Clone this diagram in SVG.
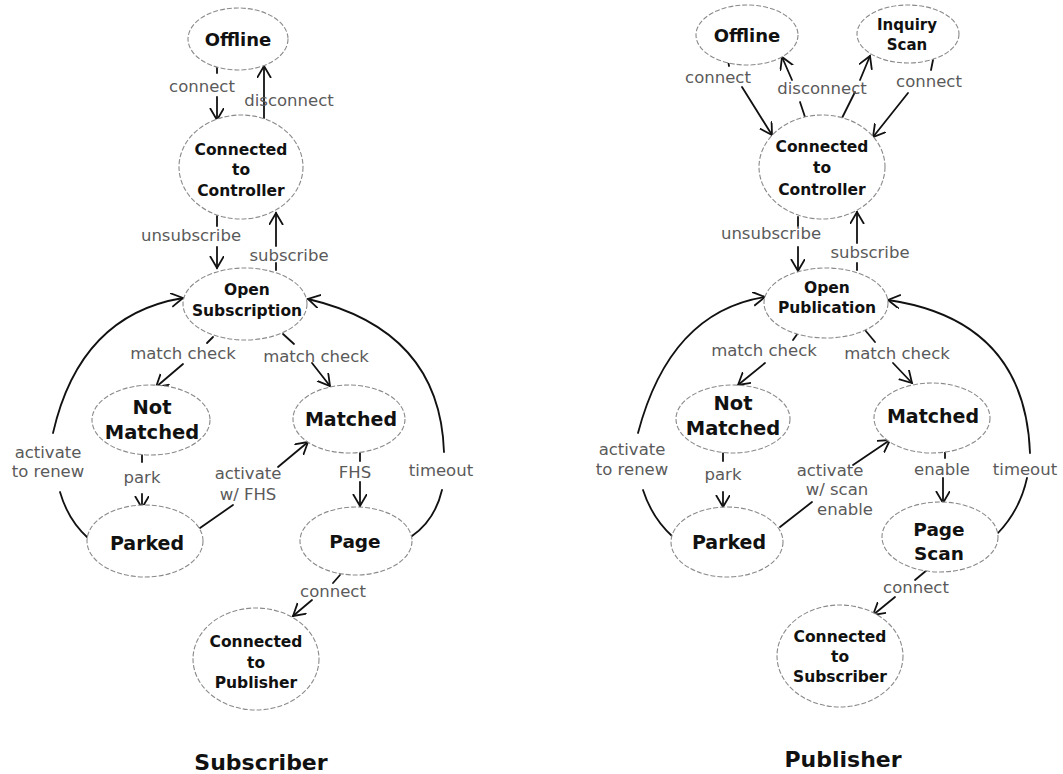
<svg xmlns="http://www.w3.org/2000/svg" width="1063" height="774" viewBox="0 0 1063 774">
<style>
.node ellipse{fill:#fff;stroke:#8a8a8a;stroke-width:1.1;stroke-dasharray:5 2}
.nt{font-family:"DejaVu Sans",Verdana,sans-serif;font-weight:bold;fill:#111;text-anchor:middle;dominant-baseline:central}
.el{font-family:"DejaVu Sans",Verdana,sans-serif;font-size:16.5px;fill:#5a5a5a;text-anchor:middle;dominant-baseline:central}
.ttl{font-family:"DejaVu Sans",Verdana,sans-serif;font-weight:bold;font-size:22px;fill:#111;text-anchor:middle;dominant-baseline:central}
#connectors path{stroke:#111;stroke-width:1.8;fill:none;stroke-linecap:round}
#connectors path.a{marker-end:url(#arr)}
</style>
<defs>
<marker id="arr" markerUnits="userSpaceOnUse" markerWidth="18" markerHeight="18" refX="12" refY="7" orient="auto">
<path d="M0,0 L12,7 L0,14" fill="none" stroke="#111" stroke-width="1.8"/>
</marker>
</defs>
<rect width="1063" height="774" fill="#fff"/>

<g id="connectors">
<!-- Subscriber -->
<path d="M217,67 L217,73"/>
<path class="a" d="M217,97 L217,120"/>
<path class="a" d="M264,118 L264,66"/>
<path d="M217,216 L217,226"/>
<path class="a" d="M217,247 L217,268"/>
<path class="a" d="M276,246 L276,213"/>
<path d="M276,263 L276,270"/>
<path d="M213,337 L207,343"/>
<path class="a" d="M183,364 L156,387"/>
<path d="M283,334 L294,344"/>
<path class="a" d="M312,363 L330,386"/>
<path d="M142,455 L142,462"/>
<path class="a" d="M142,494 L142,508"/>
<path d="M200,528 L233,505"/>
<path class="a" d="M278,467 L308,442"/>
<path d="M360,452 L360,461"/>
<path class="a" d="M360,482 L360,506"/>
<path d="M340,575 L333,583"/>
<path class="a" d="M312,600 L293,616"/>
<path class="a" d="M53,433 Q80,315 183,298"/>
<path d="M60,492 Q68,520 88,538"/>
<path class="a" d="M444,452 Q440,330 308,299"/>
<path d="M442,490 Q435,520 412,536"/>
<!-- Publisher -->
<path d="M728,60 L729,66"/>
<path class="a" d="M742,87 L772,135"/>
<path d="M805,117 L800,102"/>
<path class="a" d="M792,80 L782,57"/>
<path d="M842,118 L855,92"/>
<path class="a" d="M860,80 L870,56"/>
<path d="M933,60 L931,70"/>
<path class="a" d="M908,93 L873,137"/>
<path d="M798,217 L798,226"/>
<path class="a" d="M798,247 L798,271"/>
<path class="a" d="M857,243 L857,212"/>
<path d="M857,263 L857,270"/>
<path d="M798,333 L793,340"/>
<path class="a" d="M765,363 L738,385"/>
<path d="M865,330 L875,342"/>
<path class="a" d="M893,363 L912,383"/>
<path d="M723,453 L723,461"/>
<path class="a" d="M723,492 L723,507"/>
<path d="M780,527 L812,502"/>
<path class="a" d="M853,465 L890,440"/>
<path d="M945,450 L945,458"/>
<path class="a" d="M943,478 L943,503"/>
<path d="M927,570 L915,580"/>
<path class="a" d="M895,597 L873,615"/>
<path class="a" d="M638,433 Q670,312 765,297"/>
<path d="M643,490 Q652,518 673,537"/>
<path class="a" d="M1030,453 Q1025,320 888,300"/>
<path d="M1027,478 Q1020,510 998,533"/>
</g>

<g id="edge-labels">
<text class="el" x="202" y="86">connect</text>
<text class="el" x="289" y="100">disconnect</text>
<text class="el" x="191" y="235">unsubscribe</text>
<text class="el" x="289" y="255">subscribe</text>
<text class="el" x="183" y="353">match check</text>
<text class="el" x="316" y="356">match check</text>
<text class="el" x="48" y="452">activate</text>
<text class="el" x="48" y="471">to renew</text>
<text class="el" x="142" y="477">park</text>
<text class="el" x="248" y="473">activate</text>
<text class="el" x="248" y="494">w/ FHS</text>
<text class="el" x="355" y="472">FHS</text>
<text class="el" x="441" y="470">timeout</text>
<text class="el" x="333" y="591">connect</text>

<text class="el" x="718" y="77">connect</text>
<text class="el" x="822" y="88">disconnect</text>
<text class="el" x="929" y="81">connect</text>
<text class="el" x="771" y="233">unsubscribe</text>
<text class="el" x="870" y="252">subscribe</text>
<text class="el" x="764" y="350">match check</text>
<text class="el" x="897" y="353">match check</text>
<text class="el" x="632" y="449">activate</text>
<text class="el" x="632" y="469">to renew</text>
<text class="el" x="723" y="474">park</text>
<text class="el" x="830" y="470">activate</text>
<text class="el" x="837" y="489">w/ scan</text>
<text class="el" x="845" y="509">enable</text>
<text class="el" x="942" y="469">enable</text>
<text class="el" x="1025" y="469">timeout</text>
<text class="el" x="916" y="587">connect</text>
</g>

<!-- Subscriber nodes -->
<g id="s-offline" class="node"><ellipse cx="238" cy="39" rx="50" ry="31"/><text class="nt" x="238" y="39" font-size="18">Offline</text></g>
<g id="s-ctrl" class="node"><ellipse cx="241" cy="167" rx="62" ry="52"/><text class="nt" x="241" y="150" font-size="15.5">Connected</text><text class="nt" x="241" y="170" font-size="15.5">to</text><text class="nt" x="241" y="191" font-size="15.5">Controller</text></g>
<g id="s-open" class="node"><ellipse cx="245" cy="304" rx="62" ry="36"/><text class="nt" x="247" y="290" font-size="15.5">Open</text><text class="nt" x="247" y="311" font-size="15.5">Subscription</text></g>
<g id="s-notm" class="node"><ellipse cx="151" cy="420" rx="59" ry="35"/><text class="nt" x="152" y="407" font-size="19.5">Not</text><text class="nt" x="152" y="432" font-size="19.5">Matched</text></g>
<g id="s-match" class="node"><ellipse cx="349" cy="419" rx="56" ry="34"/><text class="nt" x="351" y="419" font-size="19">Matched</text></g>
<g id="s-parked" class="node"><ellipse cx="145" cy="541" rx="58" ry="36"/><text class="nt" x="147" y="543" font-size="19">Parked</text></g>
<g id="s-page" class="node"><ellipse cx="356" cy="541" rx="56" ry="34"/><text class="nt" x="355" y="541" font-size="18.5">Page</text></g>
<g id="s-pub" class="node"><ellipse cx="256" cy="659" rx="63" ry="51"/><text class="nt" x="256" y="642" font-size="15.5">Connected</text><text class="nt" x="256" y="663" font-size="15.5">to</text><text class="nt" x="256" y="683" font-size="15.5">Publisher</text></g>

<!-- Publisher nodes -->
<g id="p-offline" class="node"><ellipse cx="747" cy="35" rx="51" ry="30"/><text class="nt" x="747" y="35" font-size="18">Offline</text></g>
<g id="p-inq" class="node"><ellipse cx="908" cy="34" rx="51" ry="29"/><text class="nt" x="907" y="25" font-size="15">Inquiry</text><text class="nt" x="907" y="45" font-size="15">Scan</text></g>
<g id="p-ctrl" class="node"><ellipse cx="822" cy="167" rx="63" ry="52"/><text class="nt" x="822" y="147" font-size="15.5">Connected</text><text class="nt" x="822" y="168" font-size="15.5">to</text><text class="nt" x="822" y="190" font-size="15.5">Controller</text></g>
<g id="p-open" class="node"><ellipse cx="826" cy="303" rx="62" ry="35"/><text class="nt" x="827" y="288" font-size="15.5">Open</text><text class="nt" x="827" y="308" font-size="15.5">Publication</text></g>
<g id="p-notm" class="node"><ellipse cx="733" cy="419" rx="57" ry="34"/><text class="nt" x="733" y="403" font-size="19.5">Not</text><text class="nt" x="733" y="428" font-size="19.5">Matched</text></g>
<g id="p-match" class="node"><ellipse cx="932" cy="418" rx="58" ry="35"/><text class="nt" x="933" y="416" font-size="19">Matched</text></g>
<g id="p-parked" class="node"><ellipse cx="727" cy="542" rx="56" ry="35"/><text class="nt" x="729" y="542" font-size="19">Parked</text></g>
<g id="p-pscan" class="node"><ellipse cx="940" cy="537" rx="58" ry="35"/><text class="nt" x="939" y="529" font-size="18.5">Page</text><text class="nt" x="939" y="553" font-size="18.5">Scan</text></g>
<g id="p-sub" class="node"><ellipse cx="840" cy="656" rx="63" ry="51"/><text class="nt" x="840" y="637" font-size="15.5">Connected</text><text class="nt" x="840" y="657" font-size="15.5">to</text><text class="nt" x="840" y="677" font-size="15.5">Subscriber</text></g>

<g id="titles">
<text class="ttl" x="261" y="762">Subscriber</text>
<text class="ttl" x="843" y="759">Publisher</text>
</g>
</svg>
